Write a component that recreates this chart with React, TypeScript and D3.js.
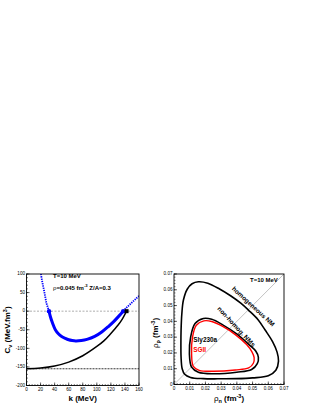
import React from 'react';
import * as d3 from 'd3';

const W = 316;
const H = 409;

// ---- Left panel: C_v vs k ----
const blackK = [0, 20, 40, 60, 80, 100, 110, 120, 130, 136, 142.3];
const blackC = [-155, -153, -147.5, -137, -120, -95, -80, -60, -38, -22, 0];

const blueK = [32, 34, 37, 41, 45, 50, 55, 60, 65, 70, 78, 86, 97, 107, 116, 124, 131, 137.5];
const blueC = [0, -15, -32, -50, -60, -68, -73, -77, -79, -80, -79, -76, -68, -56, -42, -28, -14, 0];

const blueDotLeftK = [20.5, 22.5, 24.8, 26.7, 28.5, 30.5, 32];
const blueDotLeftC = [100, 78, 57, 38, 21, 9, 0];

const blueDotRightK = [137.5, 142, 147, 152, 156, 160];
const blueDotRightC = [0, 9, 18, 27, 34, 41];

const blueMarkersK = [32, 137.5];
const blackMarkerK = [142.3];
const refLevel = -155;

const kTicks = [0, 20, 40, 60, 80, 100, 120, 140, 160];
const cTicks = [100, 50, 0, -50, -100, -150, -200];

// ---- Right panel: spinodal contours ----
const homN = [0.0155, 0.0215, 0.029, 0.036, 0.0425, 0.0475, 0.0535, 0.058, 0.0628, 0.0656, 0.0665, 0.0648, 0.060, 0.05, 0.0399, 0.028, 0.0187, 0.0105, 0.0068, 0.0052, 0.0045, 0.0044, 0.0045, 0.005, 0.006, 0.0085, 0.0115];
const homP = [0.0651, 0.0642, 0.0605, 0.0562, 0.0515, 0.047, 0.041, 0.0345, 0.027, 0.0205, 0.0148, 0.009, 0.0055, 0.0042, 0.0037, 0.0036, 0.0037, 0.0045, 0.0065, 0.01, 0.0174, 0.026, 0.0344, 0.045, 0.0535, 0.0605, 0.0638];

const slyN = [0.0187, 0.024, 0.031, 0.0399, 0.048, 0.052, 0.0537, 0.053, 0.0494, 0.0399, 0.025, 0.0155, 0.0112, 0.0098, 0.0106, 0.0134];
const slyP = [0.0418, 0.0413, 0.0378, 0.032, 0.025, 0.0212, 0.0172, 0.0132, 0.0095, 0.0078, 0.0068, 0.0078, 0.011, 0.0195, 0.0301, 0.0386];

const sgN = [0.019, 0.024, 0.031, 0.039, 0.0462, 0.0496, 0.051, 0.0505, 0.0475, 0.039, 0.025, 0.016, 0.0123, 0.0112, 0.0118, 0.0142];
const sgP = [0.0403, 0.0399, 0.0368, 0.0316, 0.0253, 0.0207, 0.017, 0.0135, 0.0105, 0.0092, 0.0084, 0.009, 0.0115, 0.0195, 0.030, 0.0375];

const rhoTicks = [0, 0.01, 0.02, 0.03, 0.04, 0.05, 0.06, 0.07];
const rhoTickLabels = ['0', '0.01', '0.02', '0.03', '0.04', '0.05', '0.06', '0.07'];

const FONT = 'Liberation Sans, Arial, Helvetica, sans-serif';

export default function App() {
  const xL = d3.scaleLinear().domain([0, 160]).range([26.5, 139]);
  const yL = d3.scaleLinear().domain([-200, 100]).range([385.5, 274]);
  const xR = d3.scaleLinear().domain([0, 0.07]).range([174, 284]);
  const yR = d3.scaleLinear().domain([0, 0.07]).range([384.5, 274]);

  const lineL = (ks: number[], cs: number[]) =>
    d3.line<[number, number]>().curve(d3.curveCatmullRom)(ks.map((k, i) => [xL(k), yL(cs[i])] as [number, number])) || '';
  const closedR = (ns: number[], ps: number[]) =>
    d3.line<[number, number]>().curve(d3.curveCatmullRomClosed)(ns.map((n, i) => [xR(n), yR(ps[i])] as [number, number])) || '';

  const lx0 = xL.range()[0], lx1 = xL.range()[1];
  const ly0 = yL.range()[0], ly1 = yL.range()[1];
  const rx0 = xR.range()[0], rx1 = xR.range()[1];
  const ry0 = yR.range()[0], ry1 = yR.range()[1];

  const kMinor = d3.range(0, 160.01, 4);
  const cMinor = d3.range(-200, 100.01, 10);
  const rMinor = d3.range(0, 0.07001, 0.002);

  const tickFs = 4.6;

  return (
    <svg width={W} height={H} style={{ position: 'absolute', left: 0, top: 0, background: '#fff' }} fontFamily={FONT}>
      <defs>
        <clipPath id="clipL">
          <rect x={lx0} y={ly1} width={lx1 - lx0} height={ly0 - ly1} />
        </clipPath>
        <clipPath id="clipR">
          <rect x={rx0} y={ry1} width={rx1 - rx0} height={ry0 - ry1} />
        </clipPath>
      </defs>

      {/* ===== Left panel ===== */}
      <g clipPath="url(#clipL)">
        <line x1={lx0} x2={lx1} y1={yL(0)} y2={yL(0)} stroke="#777" strokeWidth={0.6} strokeDasharray="2,1.5" />
        <line x1={lx0} x2={lx1} y1={yL(refLevel)} y2={yL(refLevel)} stroke="#000" strokeWidth={0.8} strokeDasharray="2,1" />
        <path d={lineL(blackK, blackC)} fill="none" stroke="#000" strokeWidth={1.5} />
        <path d={lineL(blueDotLeftK, blueDotLeftC)} fill="none" stroke="#0000ff" strokeWidth={1.8} strokeDasharray="1.3,1" />
        <path d={lineL(blueDotRightK, blueDotRightC)} fill="none" stroke="#0000ff" strokeWidth={1.8} strokeDasharray="1.3,1" />
        <path d={lineL(blueK, blueC)} fill="none" stroke="#0000ff" strokeWidth={3} />
        {blueMarkersK.map((k, i) => (
          <circle key={i} cx={xL(k)} cy={yL(0)} r={2.2} fill="#0000ff" />
        ))}
        {blackMarkerK.map((k, i) => (
          <rect key={i} x={xL(k) - 2} y={yL(0) - 2} width={4} height={4} fill="#000" />
        ))}
      </g>
      <rect x={lx0} y={ly1} width={lx1 - lx0} height={ly0 - ly1} fill="none" stroke="#000" strokeWidth={0.9} />
      {cMinor.map((c, i) => (
        <line key={'cm' + i} x1={lx0} x2={lx0 + 1.5} y1={yL(c)} y2={yL(c)} stroke="#000" strokeWidth={0.5} />
      ))}
      {cTicks.map((c, i) => (
        <g key={'ct' + i}>
          <line x1={lx0} x2={lx0 + 3} y1={yL(c)} y2={yL(c)} stroke="#000" strokeWidth={0.6} />
          <text x={lx0 - 1.5} y={yL(c)} fontSize={tickFs} textAnchor="end" dominantBaseline="middle">{c}</text>
        </g>
      ))}
      {kMinor.map((k, i) => (
        <line key={'km' + i} x1={xL(k)} x2={xL(k)} y1={ly0} y2={ly0 - 1.5} stroke="#000" strokeWidth={0.5} />
      ))}
      {kTicks.map((k, i) => (
        <g key={'kt' + i}>
          <line x1={xL(k)} x2={xL(k)} y1={ly0} y2={ly0 - 3} stroke="#000" strokeWidth={0.6} />
          <text x={xL(k)} y={ly0 + 5.2} fontSize={tickFs} textAnchor="middle">{k}</text>
        </g>
      ))}
      <text x={(lx0 + lx1) / 2} y={401} fontSize={8} fontWeight="bold" textAnchor="middle">k (MeV)</text>
      <text transform={`translate(10,330) rotate(-90)`} fontSize={8} fontWeight="bold" textAnchor="middle">
        C<tspan fontSize={5.5} dy={1.8}>v</tspan><tspan dy={-1.8}> (MeV.fm</tspan><tspan fontSize={5.5} dy={-3}>3</tspan><tspan dy={3}>)</tspan>
      </text>
      <text x={53} y={278} fontSize={6} fontWeight="bold">T=10 MeV</text>
      <text x={53} y={289.5} fontSize={6} fontWeight="bold">
        <tspan fontWeight="normal">ρ</tspan>=0.045 fm<tspan fontSize={4.2} dy={-2.3}>-3</tspan><tspan dy={2.3}>{'  '}Z/A=0.3</tspan>
      </text>

      {/* ===== Right panel ===== */}
      <g clipPath="url(#clipR)">
        <line x1={xR(0)} y1={yR(0)} x2={xR(0.07)} y2={yR(0.07)} stroke="#999" strokeWidth={0.6} />
        <path d={closedR(homN, homP)} fill="none" stroke="#000" strokeWidth={1.6} />
        <path d={closedR(slyN, slyP)} fill="none" stroke="#000" strokeWidth={1.6} />
        <path d={closedR(sgN, sgP)} fill="none" stroke="#ff0000" strokeWidth={1.4} />
      </g>
      <rect x={rx0} y={ry1} width={rx1 - rx0} height={ry0 - ry1} fill="none" stroke="#000" strokeWidth={0.9} />
      {rMinor.map((r, i) => (
        <g key={'rm' + i}>
          <line x1={rx0} x2={rx0 + 1.5} y1={yR(r)} y2={yR(r)} stroke="#000" strokeWidth={0.5} />
          <line x1={xR(r)} x2={xR(r)} y1={ry0} y2={ry0 - 1.5} stroke="#000" strokeWidth={0.5} />
        </g>
      ))}
      {rhoTicks.map((r, i) => (
        <g key={'rt' + i}>
          <line x1={rx0} x2={rx0 + 3} y1={yR(r)} y2={yR(r)} stroke="#000" strokeWidth={0.6} />
          <line x1={xR(r)} x2={xR(r)} y1={ry0} y2={ry0 - 3} stroke="#000" strokeWidth={0.6} />
          <text x={rx0 - 1.5} y={yR(r)} fontSize={tickFs} textAnchor="end" dominantBaseline="middle">{rhoTickLabels[i]}</text>
          <text x={xR(r)} y={ry0 + 5.2} fontSize={tickFs} textAnchor="middle">{rhoTickLabels[i]}</text>
        </g>
      ))}
      <text x={(rx0 + rx1) / 2} y={401} fontSize={8} fontWeight="bold" textAnchor="middle">
        <tspan fontWeight="normal">ρ</tspan><tspan fontSize={5.5} dy={1.8}>n</tspan><tspan dy={-1.8}> (fm</tspan><tspan fontSize={5.5} dy={-3}>-3</tspan><tspan dy={3}>)</tspan>
      </text>
      <text transform={`translate(158,333) rotate(-90)`} fontSize={8} fontWeight="bold" textAnchor="middle">
        <tspan fontWeight="normal">ρ</tspan><tspan fontSize={5.5} dy={1.8}>p</tspan><tspan dy={-1.8}> (fm</tspan><tspan fontSize={5.5} dy={-3}>-3</tspan><tspan dy={3}>)</tspan>
      </text>
      <text x={250} y={282} fontSize={6} fontWeight="bold">T=10 MeV</text>
      <text transform={`translate(253,306.8) rotate(42.5)`} fontSize={6.4} fontWeight="bold" textAnchor="middle" dominantBaseline="middle">homogeneous NM</text>
      <text transform={`translate(236,327) rotate(47)`} fontSize={6.4} fontWeight="bold" textAnchor="middle" dominantBaseline="middle">non-homog. NMs</text>
      <text x={193.3} y={342.2} fontSize={6.4} fontWeight="bold">Sly230a</text>
      <text x={193.3} y={351.6} fontSize={6.4} fontWeight="bold" fill="#ff0000">SGII</text>
    </svg>
  );
}
